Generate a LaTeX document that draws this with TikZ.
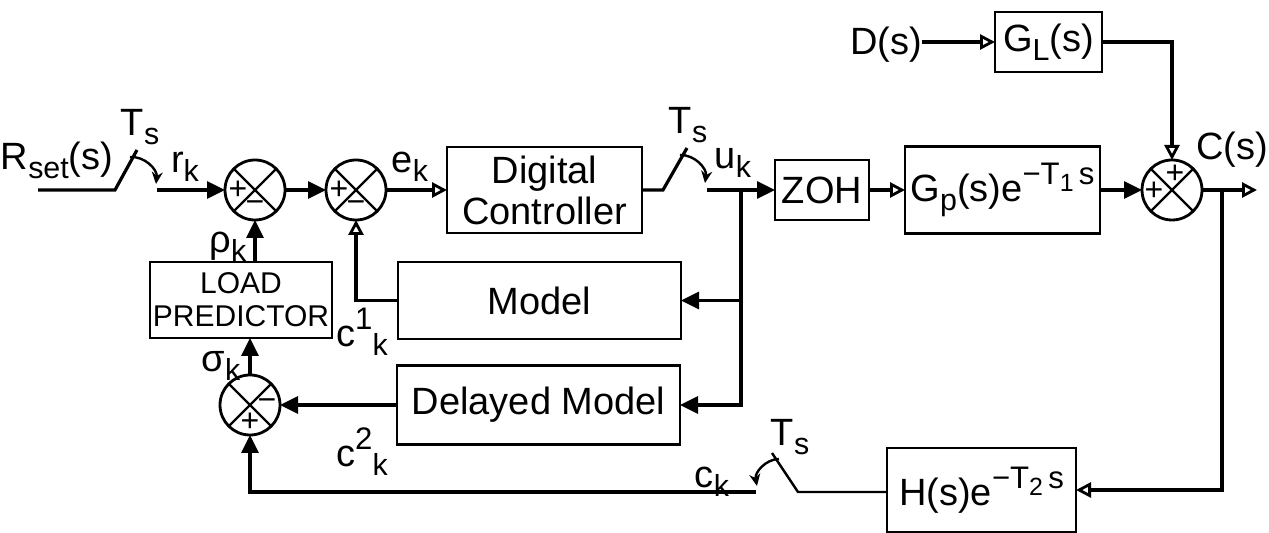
\documentclass[tikz,border=0pt]{standalone}
\usepackage{fontspec}
\setmainfont{Liberation Sans}
\usepackage{graphicx}
\usetikzlibrary{arrows.meta,calc}
\newcommand{\lo}[1]{\raisebox{-0.45ex}{\scalebox{0.8}{#1}}}
\newcommand{\hi}[1]{\raisebox{0.85ex}{\scalebox{0.82}{#1}}}
\begin{document}
\begin{tikzpicture}[x=0.5pt,y=-0.5pt,
 every node/.style={font=\fontsize{19}{20.5}\selectfont},
 blk/.style={draw, line width=1.4pt, inner sep=0pt, outer sep=0pt, align=center},
 sumc/.style={draw, circle, line width=1.4pt, minimum size=30pt, inner sep=0pt, outer sep=0pt},
 wire/.style={line width=1.6pt},
 thin wire/.style={line width=1.2pt},
 fa/.style={-{Triangle[length=9pt,width=8.5pt]}},
 oa/.style={-{Triangle[open,length=7.5pt,width=7.5pt,line width=1.4pt]}},
 ca/.style={line width=1.2pt,-{Stealth[length=6pt,width=5.5pt]}},
 lbl/.style={inner sep=0pt},
 sgn/.style={font=\fontsize{16}{16}\selectfont, inner sep=0pt},
]
\useasboundingbox (0,0) rectangle (1269,533);

% blocks
\node[blk, minimum width=97.5pt, minimum height=43pt] (dc) at (544.5,190) {Digital\\Controller};
\node[blk, minimum width=47pt, minimum height=30pt] (zoh) at (822,190) {ZOH};
\node[blk, minimum width=97.5pt, minimum height=43.5pt] (gp) at (1002.5,190) {G\lo{p}(s)e\hi{−T\lo{1}\,s}};
\node[blk, minimum width=53.5pt, minimum height=30pt] (gl) at (1048.5,42) {G\lo{L}(s)};
\node[blk, minimum width=91pt, minimum height=38pt, font=\fontsize{15}{16.5}\selectfont] (lp) at (241,300) {LOAD\\PREDICTOR};
\node[blk, minimum width=141.5pt, minimum height=38.5pt] (mod) at (539.5,300.5) {Model};
\node[blk, minimum width=141.5pt, minimum height=39.5pt] (dm) at (538.5,405) {Delayed Model};
\node[blk, minimum width=94.5pt, minimum height=42pt] (h) at (981.5,490) {H(s)e\hi{−T\lo{2}\,s}};

% summing junctions
\node[sumc] (s1) at (255,190) {};
\node[sumc] (s2) at (356,190) {};
\node[sumc] (s3) at (1172,190) {};
\node[sumc] (s4) at (250,405) {};
\foreach \s in {s1,s2,s3,s4}{
  \draw[line width=1.2pt] (\s.north west) -- (\s.south east) (\s.north east) -- (\s.south west);
}
\node[sgn] (s1p) at ($(s1)+(-17,0)$) {+};
\node[sgn] (s1m) at ($(s1)+(0,17)$) {−};
\node[sgn] (s2p) at ($(s2)+(-17,0)$) {+};
\node[sgn] (s2m) at ($(s2)+(0,17)$) {−};
\node[sgn] (s3p) at ($(s3)+(-18,1)$) {+};
\node[sgn] (s3q) at ($(s3)+(3,-16)$) {+};
\node[sgn] (s4m) at ($(s4)+(17,0)$) {−};
\node[sgn] (s4p) at ($(s4)+(0,17)$) {+};

% labels
\node[lbl] (rset) at (57,160) {R\lo{set}(s)};
\node[lbl] (ts1) at (140,127) {T\lo{s}};
\node[lbl] (rk) at (185,167) {r\lo{k}};
\node[lbl] (ek) at (410,167) {e\lo{k}};
\node[lbl] (ts2) at (688,125) {T\lo{s}};
\node[lbl] (uk) at (733,163) {u\lo{k}};
\node[lbl] (ds) at (886,45) {D(s)};
\node[lbl] (cs) at (1232,150) {C(s)};
\node[lbl] (rho) at (228,247) {ρ\lo{k}};
\node[lbl] (sig) at (221,366) {σ\lo{k}};
\node[lbl] (c1) at (362,332) {c\hi{1}\lo{k}};
\node[lbl] (c2) at (362,452) {c\hi{2}\lo{k}};
\node[lbl] (ck) at (712,482) {c\lo{k}};
\node[lbl] (ts3) at (790,437) {T\lo{s}};

% switch 1
\coordinate (in) at (38,190);
\coordinate (sw1a) at (115,190);
\coordinate (sw1b) at (137,150);
\coordinate (sw1c) at (157,190);
\coordinate (cv1a) at (130,157);
\coordinate (cv1b) at (156,184);
\draw[wire] (in) -- (sw1a) -- (sw1b);
\draw[ca] (cv1a) to[bend left=50] (cv1b);
\draw[wire,fa] (sw1c) -- (s1.west);
\draw[wire,fa] (s1.east) -- (s2.west);
\draw[wire,oa] (s2.east) -- (dc.west);

% switch 2
\coordinate (sw2a) at (663,190);
\coordinate (sw2b) at (687,148);
\coordinate (sw2c) at (707,190);
\coordinate (cv2a) at (680,155);
\coordinate (cv2b) at (705,183);
\draw[wire] (dc.east) -- (sw2a) -- (sw2b);
\draw[ca] (cv2a) to[bend left=50] (cv2b);
\draw[wire,fa] (sw2c) -- (zoh.west);
\coordinate (J) at (741,190);
\draw[wire,fa] (J) |- (mod.east);
\draw[wire,fa] (J) |- (dm.east);
\draw[wire,oa] (zoh.east) -- (gp.west);
\draw[wire,fa] (gp.east) -- (s3.west);
\draw[wire,oa] (ds.east |- gl.west) -- (gl.west);
\draw[wire,oa] (gl.east) -| (s3.north);
\coordinate (out) at (1257,190);
\coordinate (br) at (1222,190);
\draw[wire,oa] (s3.east) -- (out);
\draw[wire,oa] (br) |- (h.east);

% switch 3
\coordinate (sw3a) at (798,492);
\coordinate (sw3b) at (772,453);
\coordinate (sw3c) at (756,492);
\coordinate (cv3a) at (779,459);
\coordinate (cv3b) at (757,486);
\draw[thin wire] (h.west |- sw3a) -- (sw3a) -- (sw3b);
\draw[ca] (cv3a) to[bend right=50] (cv3b);
\draw[wire,fa] (sw3c) -| (s4.south);

% inner loops
\draw[wire,oa] (mod.west) -| (s2.south);
\draw[wire,fa] (lp.north -| s1) -- (s1.south);
\draw[wire,fa] (s4.north) -- (lp.south -| s4);
\draw[wire,fa] (dm.west) -- (s4.east);
\end{tikzpicture}
\end{document}
